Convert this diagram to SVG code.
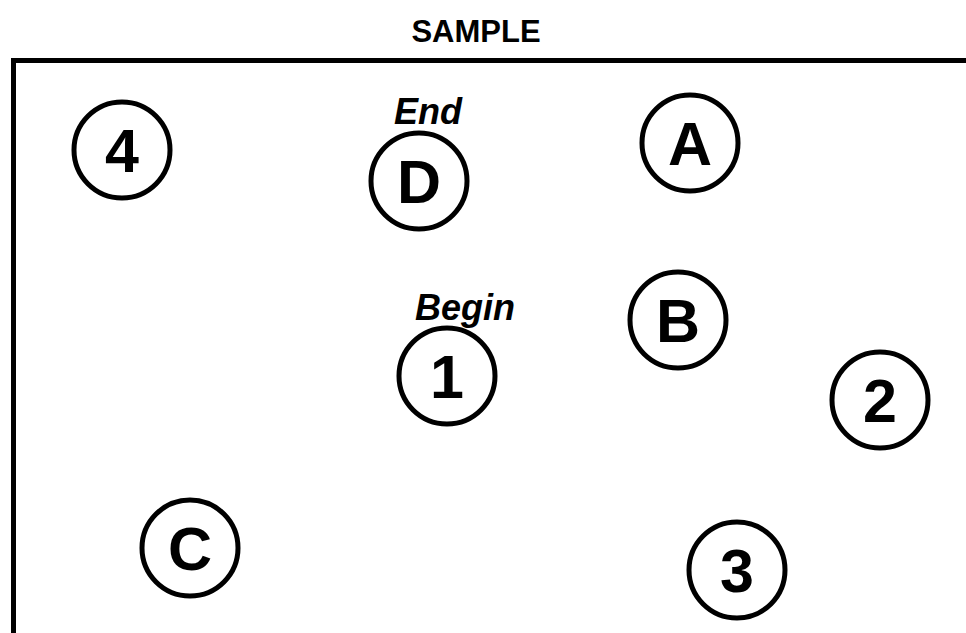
<svg xmlns="http://www.w3.org/2000/svg" width="966" height="633" viewBox="0 0 966 633">
<style>
.node circle{fill:#fff;stroke:#000;stroke-width:5}
.lbl{font-family:"Liberation Sans",Arial,sans-serif;font-weight:bold;font-size:61px;fill:#000;text-anchor:middle}
.tag{font-family:"Liberation Sans",Arial,sans-serif;font-weight:bold;font-style:italic;font-size:36px;fill:#000;text-anchor:middle}
.title{font-family:"Liberation Sans",Arial,sans-serif;font-weight:bold;font-size:31px;fill:#000;text-anchor:middle}
</style>
<rect width="966" height="633" fill="#fff"/>
<text class="title" x="476" y="42">SAMPLE</text>
<g id="frame" fill="none" stroke="#000" stroke-width="5">
<path d="M13.5,633 V60.5 H966"/>
</g>
<g id="connectors"></g>
<g id="n4" class="node"><circle cx="122" cy="150" r="48"/><text class="lbl" x="122" y="172">4</text></g>
<g id="nD" class="node"><circle cx="419" cy="181" r="48"/><text class="lbl" x="419" y="203">D</text><text class="tag" x="428" y="124">End</text></g>
<g id="nA" class="node"><circle cx="690" cy="143" r="48"/><text class="lbl" x="690" y="165">A</text></g>
<g id="nB" class="node"><circle cx="678" cy="320" r="48"/><text class="lbl" x="678" y="342">B</text></g>
<g id="n1" class="node"><circle cx="447" cy="376" r="48"/><text class="lbl" x="447" y="398">1</text><text class="tag" x="465" y="320">Begin</text></g>
<g id="n2" class="node"><circle cx="880" cy="400" r="48"/><text class="lbl" x="880" y="422">2</text></g>
<g id="nC" class="node"><circle cx="190" cy="548" r="48"/><text class="lbl" x="190" y="570">C</text></g>
<g id="n3" class="node"><circle cx="737" cy="570" r="48"/><text class="lbl" x="737" y="592">3</text></g>
</svg>
